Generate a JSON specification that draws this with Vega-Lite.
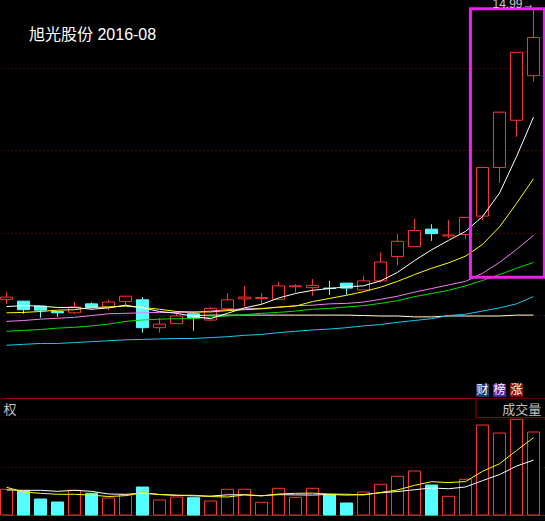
{
  "$schema": "https://vega.github.io/schema/vega-lite/v6.json",
  "background": "#000000",
  "padding": {"left": 0, "top": 0, "right": 0, "bottom": 6},
  "spacing": 0,
  "bounds": "flush",
  "config": {
    "view": {"stroke": null},
    "scale": {"continuousPadding": 0},
    "axisX": {"domain": true, "domainColor": "#A00000", "domainWidth": 1, "labels": false, "ticks": false, "grid": false, "minExtent": 0, "maxExtent": 0},
    "axisY": {"domain": false, "labels": false, "ticks": false, "grid": true, "gridColor": "#A00000", "gridDash": [1, 3], "gridWidth": 1, "minExtent": 0, "maxExtent": 0}
  },
  "datasets": {
    "k": [
      {"i":0,"dir":"up","open":8.56,"high":8.72,"low":8.46,"close":8.61,"vol":6.45,"ma5":8.40,"ma10":8.26,"ma20":8.07,"ma30":7.85,"ma60":7.54,"ma120":null,"vma5":6.95,"vma10":6.27},
      {"i":1,"dir":"down","open":8.52,"high":8.52,"low":8.24,"close":8.33,"vol":6.02,"ma5":8.42,"ma10":8.27,"ma20":8.09,"ma30":7.87,"ma60":7.56,"ma120":null,"vma5":5.77,"vma10":6.19},
      {"i":2,"dir":"down","open":8.41,"high":8.41,"low":8.15,"close":8.32,"vol":4.01,"ma5":8.41,"ma10":8.29,"ma20":8.12,"ma30":7.89,"ma60":7.58,"ma120":null,"vma5":5.44,"vma10":6.19},
      {"i":3,"dir":"down","open":8.29,"high":8.30,"low":8.17,"close":8.26,"vol":3.26,"ma5":8.38,"ma10":8.32,"ma20":8.14,"ma30":7.92,"ma60":7.58,"ma120":null,"vma5":5.19,"vma10":5.94},
      {"i":4,"dir":"up","open":8.26,"high":8.50,"low":8.23,"close":8.39,"vol":6.19,"ma5":8.38,"ma10":8.33,"ma20":8.16,"ma30":7.94,"ma60":7.60,"ma120":null,"vma5":5.19,"vma10":6.19},
      {"i":5,"dir":"down","open":8.46,"high":8.49,"low":8.35,"close":8.38,"vol":5.44,"ma5":8.34,"ma10":8.38,"ma20":8.20,"ma30":7.97,"ma60":7.62,"ma120":null,"vma5":4.99,"vma10":5.94},
      {"i":6,"dir":"up","open":8.39,"high":8.55,"low":8.32,"close":8.50,"vol":4.26,"ma5":8.37,"ma10":8.39,"ma20":8.24,"ma30":8.01,"ma60":7.64,"ma120":null,"vma5":4.63,"vma10":5.27},
      {"i":7,"dir":"up","open":8.51,"high":8.63,"low":8.43,"close":8.63,"vol":5.09,"ma5":8.43,"ma10":8.41,"ma20":8.25,"ma30":8.07,"ma60":7.66,"ma120":null,"vma5":4.85,"vma10":5.19},
      {"i":8,"dir":"down","open":8.55,"high":8.61,"low":7.82,"close":7.93,"vol":7.02,"ma5":8.37,"ma10":8.38,"ma20":8.26,"ma30":8.10,"ma60":7.67,"ma120":null,"vma5":5.60,"vma10":5.44},
      {"i":9,"dir":"up","open":7.93,"high":8.15,"low":7.82,"close":8.01,"vol":3.76,"ma5":8.29,"ma10":8.34,"ma20":8.27,"ma30":8.12,"ma60":7.68,"ma120":null,"vma5":5.12,"vma10":5.15},
      {"i":10,"dir":"up","open":8.02,"high":8.30,"low":8.02,"close":8.19,"vol":4.51,"ma5":8.25,"ma10":8.29,"ma20":8.27,"ma30":8.13,"ma60":7.69,"ma120":null,"vma5":4.93,"vma10":4.96},
      {"i":11,"dir":"down","open":8.24,"high":8.29,"low":7.86,"close":8.15,"vol":4.34,"ma5":8.18,"ma10":8.28,"ma20":8.27,"ma30":8.13,"ma60":7.69,"ma120":8.20,"vma5":4.95,"vma10":4.79},
      {"i":12,"dir":"up","open":8.10,"high":8.39,"low":8.08,"close":8.36,"vol":3.51,"ma5":8.13,"ma10":8.28,"ma20":8.30,"ma30":8.17,"ma60":7.71,"ma120":8.21,"vma5":4.63,"vma10":4.74},
      {"i":13,"dir":"up","open":8.35,"high":8.70,"low":8.30,"close":8.55,"vol":6.45,"ma5":8.25,"ma10":8.31,"ma20":8.33,"ma30":8.19,"ma60":7.73,"ma120":8.21,"vma5":4.51,"vma10":5.06},
      {"i":14,"dir":"up","open":8.57,"high":8.86,"low":8.40,"close":8.61,"vol":6.45,"ma5":8.37,"ma10":8.33,"ma20":8.35,"ma30":8.22,"ma60":7.76,"ma120":8.21,"vma5":5.05,"vma10":5.08},
      {"i":15,"dir":"up","open":8.58,"high":8.70,"low":8.45,"close":8.60,"vol":3.18,"ma5":8.45,"ma10":8.35,"ma20":8.36,"ma30":8.25,"ma60":7.78,"ma120":8.21,"vma5":4.78,"vma10":4.86},
      {"i":16,"dir":"up","open":8.56,"high":8.95,"low":8.56,"close":8.86,"vol":6.70,"ma5":8.59,"ma10":8.39,"ma20":8.38,"ma30":8.27,"ma60":7.82,"ma120":8.21,"vma5":5.26,"vma10":5.10},
      {"i":17,"dir":"up","open":8.84,"high":8.90,"low":8.71,"close":8.86,"vol":4.44,"ma5":8.69,"ma10":8.41,"ma20":8.42,"ma30":8.30,"ma60":7.85,"ma120":8.21,"vma5":5.44,"vma10":5.04},
      {"i":18,"dir":"up","open":8.82,"high":9.01,"low":8.64,"close":8.87,"vol":6.70,"ma5":8.76,"ma10":8.51,"ma20":8.43,"ma30":8.34,"ma60":7.88,"ma120":8.21,"vma5":5.49,"vma10":5.00},
      {"i":19,"dir":"down","open":8.81,"high":8.97,"low":8.66,"close":8.80,"vol":5.19,"ma5":8.80,"ma10":8.58,"ma20":8.46,"ma30":8.36,"ma60":7.90,"ma120":8.21,"vma5":5.24,"vma10":5.15},
      {"i":20,"dir":"down","open":8.92,"high":8.92,"low":8.66,"close":8.81,"vol":3.01,"ma5":8.84,"ma10":8.65,"ma20":8.47,"ma30":8.39,"ma60":7.93,"ma120":8.21,"vma5":5.21,"vma10":5.00},
      {"i":21,"dir":"up","open":8.77,"high":9.08,"low":8.77,"close":8.97,"vol":5.77,"ma5":8.86,"ma10":8.73,"ma20":8.50,"ma30":8.42,"ma60":7.97,"ma120":8.20,"vma5":5.02,"vma10":5.14},
      {"i":22,"dir":"up","open":8.97,"high":9.60,"low":8.93,"close":9.39,"vol":7.70,"ma5":8.97,"ma10":8.83,"ma20":8.56,"ma30":8.47,"ma60":8.00,"ma120":8.19,"vma5":5.67,"vma10":5.56},
      {"i":23,"dir":"up","open":9.51,"high":10.01,"low":9.31,"close":9.85,"vol":9.71,"ma5":9.16,"ma10":8.96,"ma20":8.63,"ma30":8.53,"ma60":8.05,"ma120":8.19,"vma5":6.27,"vma10":5.88},
      {"i":24,"dir":"up","open":9.73,"high":10.35,"low":9.73,"close":10.09,"vol":11.03,"ma5":9.42,"ma10":9.11,"ma20":8.72,"ma30":8.62,"ma60":8.09,"ma120":8.17,"vma5":7.44,"vma10":6.34},
      {"i":25,"dir":"down","open":10.12,"high":10.23,"low":9.86,"close":10.02,"vol":7.52,"ma5":9.66,"ma10":9.25,"ma20":8.80,"ma30":8.69,"ma60":8.13,"ma120":8.17,"vma5":8.35,"vma10":6.78},
      {"i":26,"dir":"up","open":9.97,"high":10.32,"low":9.92,"close":9.99,"vol":4.69,"ma5":9.87,"ma10":9.37,"ma20":8.88,"ma30":8.76,"ma60":8.20,"ma120":8.19,"vma5":8.13,"vma10":6.58},
      {"i":27,"dir":"up","open":10.00,"high":10.38,"low":9.90,"close":10.38,"vol":8.95,"ma5":10.07,"ma10":9.52,"ma20":8.96,"ma30":8.86,"ma60":8.23,"ma120":8.19,"vma5":8.38,"vma10":7.03},
      {"i":28,"dir":"up","open":10.41,"high":11.49,"low":10.32,"close":11.49,"vol":22.57,"ma5":10.40,"ma10":9.78,"ma20":9.14,"ma30":8.98,"ma60":8.30,"ma120":8.19,"vma5":10.95,"vma10":8.61},
      {"i":29,"dir":"up","open":11.49,"high":12.72,"low":11.15,"close":12.72,"vol":20.56,"ma5":10.92,"ma10":10.17,"ma20":9.38,"ma30":9.11,"ma60":8.37,"ma120":8.19,"vma5":12.86,"vma10":10.15},
      {"i":30,"dir":"up","open":12.54,"high":14.05,"low":12.17,"close":14.05,"vol":24.00,"ma5":11.73,"ma10":10.69,"ma20":9.67,"ma30":9.25,"ma60":8.46,"ma120":8.21,"vma5":16.16,"vma10":12.25},
      {"i":31,"dir":"up","open":13.53,"high":14.99,"low":13.40,"close":14.38,"vol":20.81,"ma5":12.61,"ma10":11.24,"ma20":9.98,"ma30":9.38,"ma60":8.62,"ma120":8.21,"vma5":19.39,"vma10":13.76}
    ],
    "box": [{"from": 27.29, "to": 31.64, "bottom": 9.05, "top": 15.02}],
    "hi": [{"i": 31, "price": 14.99, "label": "14.99→"}],
    "icons": [{"i": 28, "label": "财"}, {"i": 29, "label": "榜"}, {"i": 30, "label": "涨"}],
    "panel": [{"name": "成交量", "side": "前复权"}]
  },
  "vconcat": [
    {
      "width": 545,
      "height": 398,
      "title": {"text": "旭光股份 2016-08", "anchor": "start", "frame": "group", "orient": "top", "offset": 0, "dx": 26, "dy": 56, "baseline": "alphabetic", "font": "Liberation Sans, Noto Sans CJK SC", "fontSize": 16, "fontWeight": "normal", "color": "#FFFFFF"},
      "encoding": {
        "x": {"type": "quantitative", "scale": {"domain": [-0.206, 31.853], "nice": false, "zero": false, "padding": 0}, "axis": {"title": null}},
        "y": {"type": "quantitative", "scale": {"domain": [6.3678, 15.2122], "nice": false, "zero": false, "padding": 0}, "axis": {"title": null, "values": [8.2122, 10.0344, 11.8789, 13.7011]}}
      },
      "layer": [
        {
          "data": {"name": "k"},
          "mark": {"type": "rule", "strokeWidth": 1},
          "encoding": {
            "x": {"field": "i"},
            "y": {"field": "low"},
            "y2": {"field": "high"},
            "stroke": {"field": "dir", "type": "nominal", "scale": {"domain": ["up", "down"], "range": ["#FF3232", "#54FFFF"]}, "legend": null}
          }
        },
        {
          "data": {"name": "k"},
          "mark": {"type": "bar", "size": 12, "strokeWidth": 1},
          "encoding": {
            "x": {"field": "i"},
            "y": {"field": "open"},
            "y2": {"field": "close"},
            "fill": {"field": "dir", "type": "nominal", "scale": {"domain": ["up", "down"], "range": ["#000000", "#54FFFF"]}, "legend": null},
            "stroke": {"field": "dir", "type": "nominal", "legend": null}
          }
        },
        {"data": {"name": "k"}, "mark": {"type": "line", "color": "#FFFFC8", "strokeWidth": 1}, "encoding": {"x": {"field": "i"}, "y": {"field": "ma120"}}},
        {"data": {"name": "k"}, "mark": {"type": "line", "color": "#1EC8F0", "strokeWidth": 1}, "encoding": {"x": {"field": "i"}, "y": {"field": "ma60"}}},
        {"data": {"name": "k"}, "mark": {"type": "line", "color": "#00E000", "strokeWidth": 1}, "encoding": {"x": {"field": "i"}, "y": {"field": "ma30"}}},
        {"data": {"name": "k"}, "mark": {"type": "line", "color": "#F080F0", "strokeWidth": 1}, "encoding": {"x": {"field": "i"}, "y": {"field": "ma20"}}},
        {"data": {"name": "k"}, "mark": {"type": "line", "color": "#FFFF00", "strokeWidth": 1}, "encoding": {"x": {"field": "i"}, "y": {"field": "ma10"}}},
        {"data": {"name": "k"}, "mark": {"type": "line", "color": "#FFFFFF", "strokeWidth": 1}, "encoding": {"x": {"field": "i"}, "y": {"field": "ma5"}}},
        {
          "data": {"name": "box"},
          "mark": {"type": "rect", "filled": false, "stroke": "#F020F0", "strokeWidth": 3},
          "encoding": {
            "x": {"field": "from"},
            "x2": {"field": "to"},
            "y": {"field": "bottom"},
            "y2": {"field": "top"}
          }
        },
        {
          "data": {"name": "hi"},
          "mark": {"type": "text", "clip": true, "align": "right", "baseline": "alphabetic", "dx": 1, "dy": -2, "font": "Liberation Sans", "fontSize": 12, "color": "#C8C8C8"},
          "encoding": {
            "x": {"field": "i"},
            "y": {"field": "price"},
            "text": {"field": "label"}
          }
        },
        {
          "data": {"name": "icons"},
          "mark": {"type": "point", "shape": "square", "size": 169, "filled": true, "opacity": 1, "strokeWidth": 0},
          "encoding": {
            "x": {"field": "i"},
            "y": {"datum": 6.539},
            "color": {"field": "label", "type": "nominal", "scale": {"domain": ["财", "榜", "涨"], "range": ["#1A3C78", "#5A22B0", "#8C1010"]}, "legend": null}
          }
        },
        {
          "data": {"name": "icons"},
          "mark": {"type": "text", "baseline": "middle", "align": "center", "font": "Noto Sans CJK SC", "fontSize": 12, "color": "#FFFFFF"},
          "encoding": {
            "x": {"field": "i"},
            "y": {"datum": 6.539},
            "text": {"field": "label"}
          }
        }
      ]
    },
    {
      "width": 545,
      "height": 117,
      "encoding": {
        "x": {"type": "quantitative", "scale": {"domain": [-0.206, 31.853], "nice": false, "zero": false, "padding": 0}, "axis": {"title": null}},
        "y": {"type": "quantitative", "scale": {"domain": [0, 29.342], "nice": false, "zero": true, "padding": 0}, "axis": {"title": null, "values": [12.038, 24.075]}}
      },
      "layer": [
        {
          "data": {"name": "k"},
          "mark": {"type": "bar", "size": 12, "strokeWidth": 1},
          "encoding": {
            "x": {"field": "i"},
            "y": {"field": "vol"},
            "y2": {"datum": 0},
            "fill": {"field": "dir", "type": "nominal", "scale": {"domain": ["up", "down"], "range": ["#000000", "#54FFFF"]}, "legend": null},
            "stroke": {"field": "dir", "type": "nominal", "scale": {"domain": ["up", "down"], "range": ["#FF3232", "#54FFFF"]}, "legend": null}
          }
        },
        {"data": {"name": "k"}, "mark": {"type": "line", "color": "#FFFFFF", "strokeWidth": 1}, "encoding": {"x": {"field": "i"}, "y": {"field": "vma10"}}},
        {"data": {"name": "k"}, "mark": {"type": "line", "color": "#FFFF00", "strokeWidth": 1}, "encoding": {"x": {"field": "i"}, "y": {"field": "vma5"}}},
        {
          "data": {"name": "panel"},
          "mark": {"type": "rect", "clip": true, "fill": "#000000", "stroke": "#A00000", "strokeWidth": 1},
          "encoding": {
            "x": {"datum": 27.62},
            "x2": {"datum": 32.3},
            "y": {"datum": 24.4},
            "y2": {"datum": 29.342}
          }
        },
        {
          "data": {"name": "panel"},
          "mark": {"type": "text", "align": "center", "baseline": "alphabetic", "font": "Noto Sans CJK SC", "fontSize": 13, "color": "#C0C0C0"},
          "encoding": {
            "x": {"datum": 30.31},
            "y": {"datum": 25.33},
            "text": {"field": "name"}
          }
        },
        {
          "data": {"name": "panel"},
          "mark": {"type": "text", "clip": true, "align": "right", "baseline": "alphabetic", "font": "Noto Sans CJK SC", "fontSize": 13, "color": "#C0C0C0"},
          "encoding": {
            "x": {"datum": 0.59},
            "y": {"datum": 25.33},
            "text": {"field": "side"}
          }
        }
      ]
    }
  ]
}
